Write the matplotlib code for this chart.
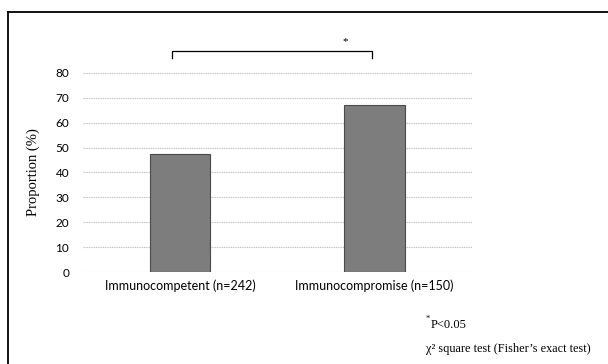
import matplotlib
matplotlib.use("Agg")
import matplotlib.pyplot as plt
from matplotlib.lines import Line2D

# data
groups = ["Immunocompetent (n=242)", "Immunocompromise (n=150)"]
proportion = [47.3, 67.0]
yticks = [0, 10, 20, 30, 40, 50, 60, 70, 80]
ylabel = "Proportion (%)"
note_p = "P<0.05"
note_test = "\u03c7\u00b2 square test (Fisher\u2019s exact test)"

sans = ["Lato", "DejaVu Sans"]
serif = ["Liberation Serif", "DejaVu Sans"]

fig = plt.figure(figsize=(6.08, 3.64), dpi=100)
ax = fig.add_axes([0.1365, 0.2527, 0.6395, 0.547])

x = list(range(len(groups)))
ax.bar(x, proportion, width=0.31, color="#7d7d7d", edgecolor="#4a4a4a",
       linewidth=0.8, zorder=3)

ax.set_xlim(-0.5, 1.5)
ax.set_ylim(0, 80)
ax.set_yticks(yticks)
ax.yaxis.grid(True, color="#c4c4c4", linewidth=0.8, linestyle=(0, (1, 0.6)))
ax.set_axisbelow(True)
for s in ax.spines.values():
    s.set_visible(False)
ax.tick_params(axis="both", length=0)
ax.tick_params(axis="y", pad=10)
ax.tick_params(axis="x", pad=5)
ax.set_xticks(x)
ax.set_xticklabels(groups, fontsize=9, family=sans)
for lab in ax.get_yticklabels():
    lab.set_family(sans)
    lab.set_fontsize(8.5)

ax.set_ylabel(ylabel, family=serif, fontsize=10.5)
ax.yaxis.set_label_coords(-0.11, 0.5)

# significance bracket
bx0, bx1 = -0.04, 0.985
ax.plot([bx0, bx0, bx1, bx1], [86, 89, 89, 86], color="black", lw=0.9,
        clip_on=False)
ax.text(0.85, 92.5, "*", ha="center", va="center", fontsize=8,
        family=serif, clip_on=False)

# notes
nx = 0.70
fig.text(nx, 0.113, "*", fontsize=6, family=serif, va="bottom")
fig.text(nx + 0.008, 0.108, note_p, fontsize=9, family=serif, va="center")
fig.text(nx, 0.040, note_test, fontsize=8.8, family=serif, va="center")

# outer frame (left and top only visible)
fig.add_artist(Line2D([0.013, 0.013], [0.0, 0.967], color="black", lw=1.3,
                      transform=fig.transFigure))
fig.add_artist(Line2D([0.013, 1.0], [0.967, 0.967], color="black", lw=1.3,
                      transform=fig.transFigure))

fig.savefig("out.png", dpi=100)
